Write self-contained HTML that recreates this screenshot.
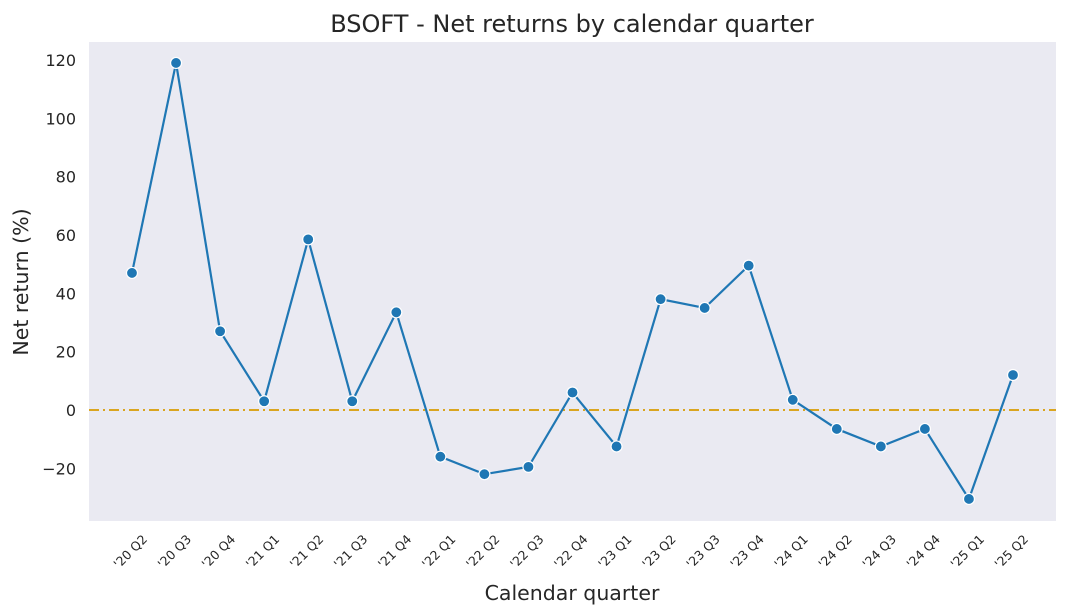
<!DOCTYPE html>
<html><head><meta charset="utf-8"><style>
html,body{margin:0;padding:0;background:#fff;}
svg{display:block;font-family:"DejaVu Sans","Liberation Sans",sans-serif;}
</style></head><body>
<svg id="chart" width="1069" height="616">
<rect x="89" y="42" width="967" height="479" fill="#eaeaf2"/>
<g id="yticks"></g>
<g id="xticks"></g>
<line x1="89" x2="1056" id="zero" stroke="#daa520" stroke-width="2" stroke-dasharray="10,4,2,4"/>
<path id="line" fill="none" stroke="#1f77b4" stroke-width="2.2"/>
<g id="points"></g>
<text x="572" y="32" text-anchor="middle" font-size="24" fill="#262626">BSOFT - Net returns by calendar quarter</text>
<text x="572" y="600" text-anchor="middle" font-size="20.5" fill="#262626">Calendar quarter</text>
<text transform="translate(28,282) rotate(-90)" text-anchor="middle" font-size="20.5" fill="#262626">Net return (%)</text>
</svg>
<script>
const categories=["'20 Q2","'20 Q3","'20 Q4","'21 Q1","'21 Q2","'21 Q3","'21 Q4","'22 Q1","'22 Q2","'22 Q3","'22 Q4","'23 Q1","'23 Q2","'23 Q3","'23 Q4","'24 Q1","'24 Q2","'24 Q3","'24 Q4","'25 Q1","'25 Q2"];
const values=[47,119,27,3,58.5,3,33.5,-16,-22,-19.5,6,-12.5,38,35,49.5,3.5,-6.5,-12.5,-6.5,-30.5,12];
const yTicks=[-20,0,20,40,60,80,100,120];
const NS="http://www.w3.org/2000/svg";
function x(i){return 132+i*(1013-132)/(categories.length-1);}
function y(v){return 410-v*(350/120);}
function mk(t,a,p){const e=document.createElementNS(NS,t);for(const k in a)e.setAttribute(k,a[k]);p.appendChild(e);return e;}
const yt=document.getElementById('yticks');
yTicks.forEach(v=>{
 const t=mk('text',{x:76,y:y(v)+6,'text-anchor':'end','font-size':16,fill:'#262626'},yt);
 
 
 t.textContent=v<0?'\u2212'+(-v):String(v);
});
const xt=document.getElementById('xticks');
categories.forEach((c,i)=>{
 const t=mk('text',{transform:`translate(${x(i)+16},${540}) rotate(-45)`,'text-anchor':'end','font-size':12.5,fill:'#262626'},xt);
 
 
 t.textContent=c;
});
const z=document.getElementById('zero');z.setAttribute('y1',y(0));z.setAttribute('y2',y(0));
document.getElementById('line').setAttribute('d',values.map((v,i)=>(i?'L':'M')+x(i)+','+y(v)).join(''));
const pts=document.getElementById('points');
values.forEach((v,i)=>{
 const c=mk('circle',{cx:x(i),cy:y(v),r:5.5,fill:'#1f77b4',stroke:'#fff','stroke-width':1.2},pts);
 
 
});
</script>
</body></html>
